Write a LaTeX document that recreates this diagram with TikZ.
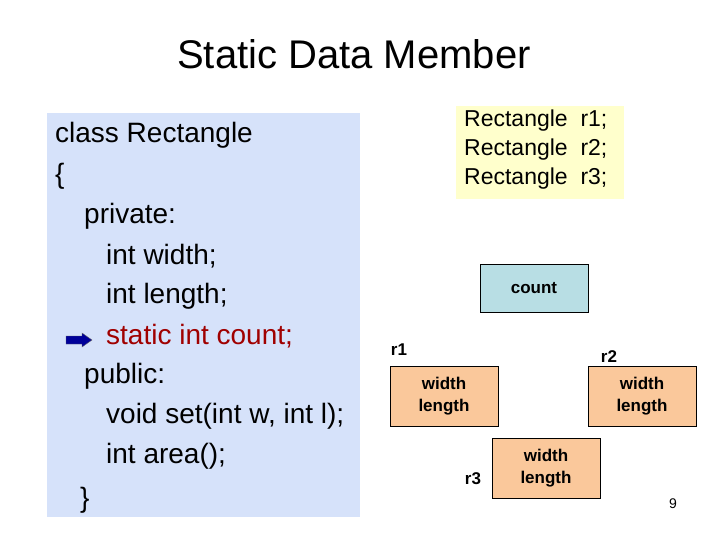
\documentclass[tikz,border=0pt]{standalone}
\usepackage{fontspec}
\setmainfont{Liberation Sans}
\definecolor{codebg}{RGB}{214,226,250}
\definecolor{countbg}{RGB}{184,222,228}
\definecolor{fieldbg}{RGB}{250,200,155}
\definecolor{declbg}{RGB}{255,255,204}
\begin{document}
\begin{tikzpicture}[x=1pt,y=-1pt,
  codeline/.style={anchor=west,font=\fontsize{28}{32}\selectfont,inner sep=0pt},
  field/.style={draw,fill=fieldbg,minimum width=108,minimum height=60,align=center,font=\fontsize{17}{22}\selectfont\bfseries},
  tag/.style={font=\fontsize{17}{18}\selectfont\bfseries}]
\useasboundingbox (0,0) rectangle (720,540);

% titolo
\node (title) at (354,54) {\fontsize{40}{44}\selectfont Static Data Member};

% codice della classe
\fill[codebg] (47,113) rectangle (360,517);
\node[codeline] (c1) at (55,135) {class Rectangle};
\node[codeline] (c2) at (55,176) {\{};
\node[codeline] (c3) at (84,216) {private:};
\node[codeline] (c4) at (106,256) {int width;};
\node[codeline] (c5) at (106,296) {int length;};
\node[codeline,text={rgb,255:red,160;green,0;blue,0}] (c6) at (106,336) {static int count;};
\node[codeline] (c7) at (84,376) {public:};
\node[codeline] (c8) at (106,416) {void set(int w, int l);};
\node[codeline] (c9) at (106,456) {int area();};
\node[codeline] (c10) at (80,500) {\}};
\fill[blue!60!black,draw=black!60,line width=0.4pt] (66,336) -- (82,336) -- (82,333) -- (92,340) -- (82,347) -- (82,344) -- (66,344) -- cycle;

% oggetti
\fill[declbg] (456,106) rectangle (624,199);
\node[anchor=north west,inner sep=0pt,align=left,font=\fontsize{23}{29}\selectfont] (decl) at (464,110) {Rectangle~~r1;\\Rectangle~~r2;\\Rectangle~~r3;};
\node[draw,fill=countbg,minimum width=108,minimum height=48,font=\fontsize{17}{18}\selectfont\bfseries] (count) at (534,288) {count};
\node[field] (r1) at (444,396) {width\\length};
\node[field] (r2) at (642,396) {width\\length};
\node[field] (r3) at (546,468) {width\\length};
\node[tag] (t1) at (399,350) {r1};
\node[tag] (t2) at (609,357) {r2};
\node[tag] (t3) at (473,479) {r3};
\node[font=\fontsize{14}{16}\selectfont] (page) at (673,504) {9};
\end{tikzpicture}
\end{document}
